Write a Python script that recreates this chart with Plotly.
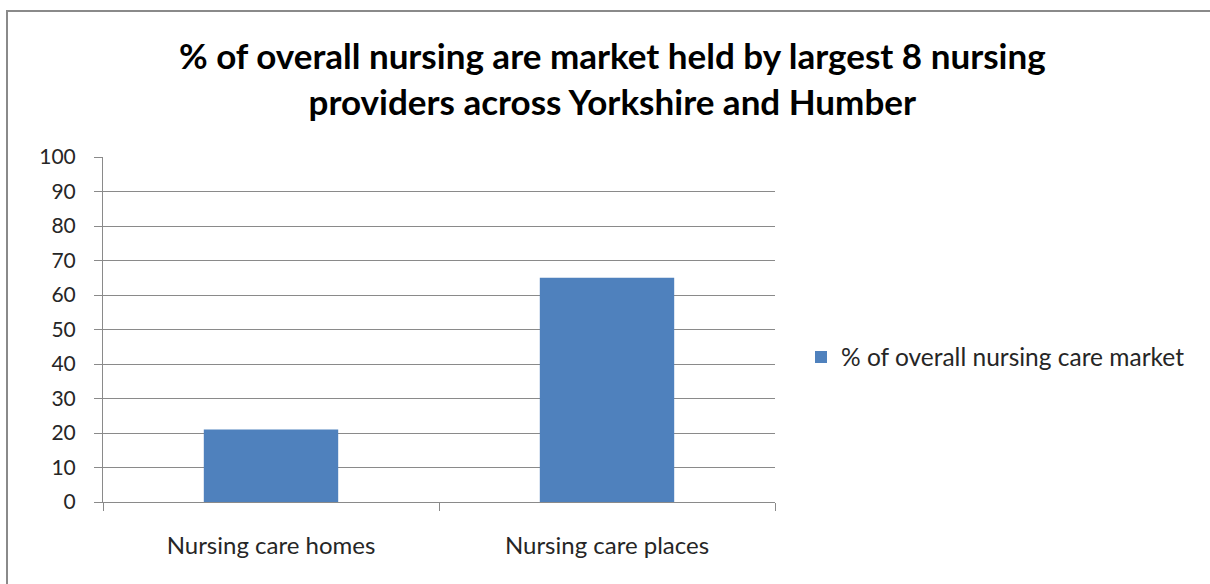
import plotly.graph_objects as go

# Data
categories = ["Nursing care homes", "Nursing care places"]
market_share = [21, 65]
series_name = "% of overall nursing care market"
y_ticks = [0, 10, 20, 30, 40, 50, 60, 70, 80, 90, 100]

W, H = 1210, 584
L, R, T, B = 103, 775, 157, 502
pw, ph = R - L, B - T

def px_x(x):
    return (x - L) / pw

def px_y(y):
    return (B - y) / ph

FONT = "Lato, 'Open Sans', sans-serif"
GRID = "#8a8a8a"

fig = go.Figure()
fig.add_trace(go.Bar(
    x=categories,
    y=market_share,
    name=series_name,
    marker=dict(color="#4f81bd", line=dict(width=0)),
    width=0.4,
    showlegend=True,
))

fig.update_layout(
    width=W,
    height=H,
    margin=dict(l=L, r=W - R, t=T, b=H - B, pad=0),
    paper_bgcolor="white",
    plot_bgcolor="white",
    font=dict(family=FONT, color="#262626"),
    showlegend=True,
    legend=dict(
        x=px_x(801), y=px_y(357), xanchor="left", yanchor="middle",
        font=dict(size=24.5, color="#262626"),
        itemwidth=30,
        bgcolor="rgba(0,0,0,0)",
    ),
    xaxis=dict(
        type="category",
        showline=True, linecolor=GRID, linewidth=1,
        ticks="outside", tickson="boundaries", ticklen=8, tickcolor=GRID,
        showgrid=False,
        tickfont=dict(size=24, color="#262626"),
        ticklabelstandoff=22,
        fixedrange=True,
    ),
    yaxis=dict(
        range=[0, 100],
        tickvals=y_ticks,
        showline=True, linecolor=GRID, linewidth=1,
        ticks="outside", ticklen=8, tickcolor=GRID,
        showgrid=True, gridcolor=GRID, gridwidth=1,
        zeroline=False,
        tickfont=dict(size=21, color="#262626"),
        ticklabelstandoff=14,
    ),
    annotations=[
        dict(
            text="<b>% of overall nursing are market held by largest 8 nursing</b><br><b>providers across Yorkshire and Humber</b>",
            x=px_x(612), y=px_y(78), xref="paper", yref="paper",
            xanchor="center", yanchor="middle", showarrow=False,
            font=dict(size=35, color="#000000", family=FONT),
            align="center",
        )
    ],
    shapes=[
        dict(
            type="rect", xref="paper", yref="paper",
            x0=px_x(7), x1=px_x(1215), y0=px_y(590), y1=px_y(11),
            line=dict(color="#8a8a8a", width=2), fillcolor="rgba(0,0,0,0)",
            layer="below",
        )
    ],
)

fig.write_html("out.html")
